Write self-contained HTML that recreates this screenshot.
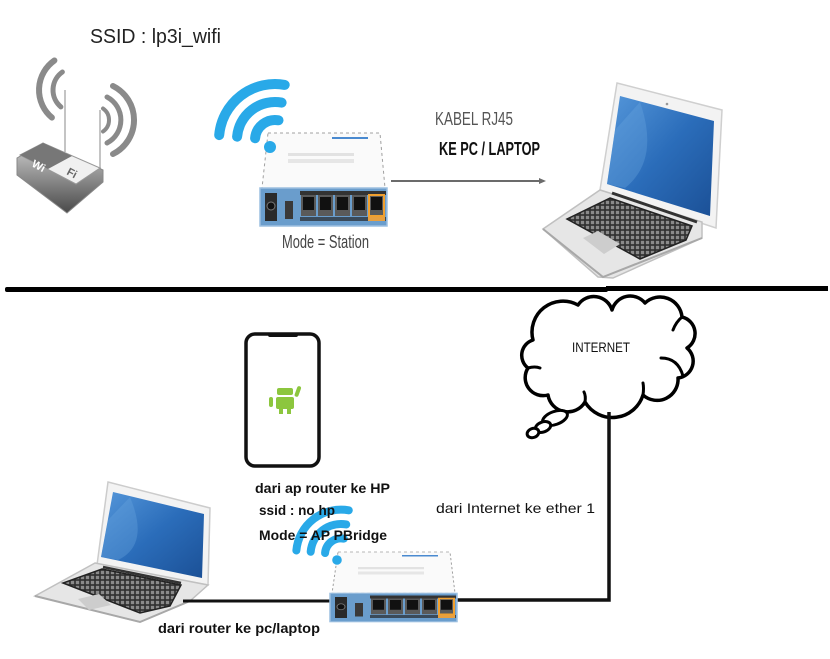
<!DOCTYPE html>
<html><head><meta charset="utf-8">
<style>
html,body{margin:0;padding:0;background:#fff;}
svg{display:block;}
</style></head>
<body>
<svg width="830" height="659" viewBox="0 0 830 659" xmlns="http://www.w3.org/2000/svg">
<defs>
<linearGradient id="scr" x1="0" y1="0" x2="1" y2="1">
<stop offset="0" stop-color="#5597da"/><stop offset="0.5" stop-color="#2b6dba"/><stop offset="1" stop-color="#1b5096"/>
</linearGradient>
<pattern id="keys" width="5" height="5" patternUnits="userSpaceOnUse">
<rect width="5" height="5" fill="#2e2e2e"/><rect x="0.8" y="0.8" width="3.4" height="3.4" fill="#8a8a8a"/>
</pattern>
<linearGradient id="dev" x1="0" y1="0" x2="0" y2="1">
<stop offset="0" stop-color="#cfcfcf"/><stop offset="1" stop-color="#4a4a4a"/>
</linearGradient>
<g id="router">
  <polygon points="8,0 120,0 125,55 2,55" fill="#fafafa" stroke="#a0a0a0" stroke-width="1" stroke-dasharray="3,3"/>
  <rect x="72" y="4" width="36" height="2" fill="#4a8ad0"/>
  <rect x="28" y="20" width="66" height="3" fill="#e2e2e2"/>
  <rect x="28" y="26" width="66" height="4" fill="#e6e6e6"/>
  <rect x="0" y="55" width="127" height="38" fill="#6a9dcc" stroke="#9cbfe0" stroke-width="1.5"/>
  <rect x="5" y="60" width="12" height="28" fill="#2a2a2a"/>
  <circle cx="11" cy="73" r="4" fill="#111" stroke="#777" stroke-width="1"/>
  <rect x="25" y="68" width="8" height="18" fill="#3a3a3a"/>
  <rect x="40" y="58" width="86" height="4" fill="#333"/>
  <rect x="40" y="84" width="86" height="4" fill="#3a4a5a"/>
  <g fill="#5a5a5a">
    <rect x="41" y="62" width="15" height="21"/>
    <rect x="58" y="62" width="15" height="21"/>
    <rect x="75" y="62" width="15" height="21"/>
    <rect x="92" y="62" width="15" height="21"/>
    <rect x="109" y="62" width="15" height="21" stroke="#f0a030" stroke-width="2"/>
  </g>
  <g fill="#111">
    <rect x="43" y="64" width="11" height="13"/>
    <rect x="60" y="64" width="11" height="13"/>
    <rect x="77" y="64" width="11" height="13"/>
    <rect x="94" y="64" width="11" height="13"/>
    <rect x="111" y="64" width="11" height="13"/>
  </g>
  <rect x="108" y="84" width="17" height="4" fill="#e8a040"/>
</g>
<g id="wifi" fill="none" stroke="#29a9e8" stroke-width="10" stroke-linecap="round">
  <path d="M284.7 84.9 A56 56 0 0 0 219.2 135.1"/>
  <path d="M281.6 102.6 A38 38 0 0 0 237.1 136.7"/>
  <path d="M278.5 120.3 A20 20 0 0 0 255.1 138.3"/>
  <circle cx="270" cy="147" r="6" fill="#29a9e8" stroke="none"/>
</g>
</defs>

<!-- ===== TOP SECTION ===== -->
<!-- left wifi device -->
<g fill="none" stroke="#8a8a8a" stroke-linecap="round">
  <path d="M54.4 60.5 A36 36 0 0 0 51.9 117.6" stroke-width="6"/>
  <path d="M62.4 72 A22 22 0 0 0 60.9 106.9" stroke-width="5"/>
  <path d="M113 86 A38 38 0 0 1 113 154" stroke-width="6"/>
  <path d="M107 97 A26 26 0 0 1 107 143" stroke-width="5"/>
  <path d="M103 108.5 A14 14 0 0 1 103 131.5" stroke-width="4"/>
</g>
<line x1="65" y1="90" x2="65" y2="152" stroke="#c4c4c4" stroke-width="2"/>
<line x1="100" y1="110" x2="100" y2="170" stroke="#c4c4c4" stroke-width="2"/>
<polygon points="17,158 43,143 103,170 103,182 67,213 17,175" fill="url(#dev)" stroke="#888" stroke-width="1"/>
<polygon points="20,155 43,143 100,168 76,184" fill="#f0f0f0" stroke="#999" stroke-width="1"/>
<polygon points="20,155 43,143 72,156 48,169" fill="#777"/>
<text x="0" y="0" font-family="Liberation Sans, sans-serif" font-weight="bold" font-size="11" fill="#fff" transform="translate(31,166) rotate(28)">Wi</text>
<text x="0" y="0" font-family="Liberation Sans, sans-serif" font-weight="bold" font-size="11" fill="#666" transform="translate(66,174) rotate(28)">Fi</text>

<text x="90" y="43" font-family="Liberation Sans, sans-serif" font-size="20" fill="#222" textLength="131" lengthAdjust="spacingAndGlyphs">SSID : lp3i_wifi</text>

<!-- top router -->
<use href="#router" transform="translate(260,133)"/>
<use href="#wifi"/>
<text x="282" y="248" font-family="Liberation Sans, sans-serif" font-size="18" fill="#444" textLength="87" lengthAdjust="spacingAndGlyphs">Mode = Station</text>

<!-- cable arrow -->
<line x1="391" y1="181" x2="542" y2="181" stroke="#6b6b6b" stroke-width="2"/>
<polygon points="546,181 539,178 539,184" fill="#6b6b6b"/>
<text x="435" y="125" font-family="Liberation Sans, sans-serif" font-size="18" fill="#555" textLength="78" lengthAdjust="spacingAndGlyphs">KABEL RJ45</text>
<text x="439" y="155" font-family="Liberation Sans, sans-serif" font-weight="bold" font-size="18" fill="#111" textLength="101" lengthAdjust="spacingAndGlyphs">KE PC / LAPTOP</text>

<!-- top laptop -->
<polygon points="617,83 722,110 716,228 600,190" fill="#f3f3f3" stroke="#cfcfcf" stroke-width="1.5"/>
<polygon points="620,96 714,121 710,216 607,184" fill="url(#scr)"/>
<path d="M640,102 Q660,160 625,188 L607,184 L615,130 Z" fill="#6aa5e0" opacity="0.35"/>
<circle cx="667" cy="104" r="1.3" fill="#999"/>
<polygon points="600,190 702,222 702,238 613,278 598,277 543,229" fill="#e6e6e6" stroke="#c0c0c0" stroke-width="1.5"/>
<polyline points="543,229 603,277 702,238" fill="none" stroke="#a8a8a8" stroke-width="2"/>
<line x1="612" y1="193" x2="697" y2="222" stroke="#333" stroke-width="3"/>
<polygon points="610,198 692,226 686,240 640,259 567,219" fill="url(#keys)" stroke="#222" stroke-width="1.5"/>
<polygon points="583,238 598,231 620,244 604,254" fill="#cdcdcd"/>

<!-- separator -->
<rect x="5" y="287" width="603" height="5" rx="2" fill="#000"/>
<rect x="606" y="286" width="222" height="5" fill="#000"/>

<!-- ===== BOTTOM SECTION ===== -->
<!-- cloud -->
<path d="M533,340 A31,31 0 0 1 578,305 A19,19 0 0 1 612,310 A19,19 0 0 1 645,303 A22,22 0 0 1 682,317 A17,17 0 0 1 687,348 A17,17 0 0 1 678,378 A21,21 0 0 1 643,395 A32,32 0 0 1 585,402 A20,20 0 0 1 548,395 A18,18 0 0 1 528,368 A16,16 0 0 1 533,340 Z" fill="#fff" stroke="#000" stroke-width="3.5" stroke-linejoin="round"/>
<g fill="none" stroke="#000" stroke-width="3" stroke-linecap="round">
  <path d="M661,358 Q678,358 683,376"/>
  <path d="M643,395 Q644,388 643,383"/>
  <path d="M585,402 Q586,396 584,392"/>
  <path d="M528,368 Q535,366 540,368"/>
  <path d="M682,317 Q676,322 673,330"/>
</g>
<ellipse cx="555" cy="418" rx="13" ry="6.5" transform="rotate(-20 555 418)" fill="#fff" stroke="#000" stroke-width="3"/>
<ellipse cx="543" cy="427" rx="8" ry="5" transform="rotate(-20 543 427)" fill="#fff" stroke="#000" stroke-width="3"/>
<ellipse cx="533" cy="433" rx="6" ry="4.5" transform="rotate(-20 533 433)" fill="#fff" stroke="#000" stroke-width="3"/>
<text x="572" y="352" font-family="Liberation Sans, sans-serif" font-size="14" fill="#111" textLength="58" lengthAdjust="spacingAndGlyphs">INTERNET</text>

<!-- cable internet -> router -->
<polyline points="609,412 609,600 452,600" fill="none" stroke="#111" stroke-width="3.5"/>
<text x="436" y="513" font-family="Liberation Sans, sans-serif" font-size="14" fill="#111" textLength="159" lengthAdjust="spacingAndGlyphs">dari Internet ke ether 1</text>

<!-- phone -->
<rect x="246" y="334" width="73" height="132" rx="9" fill="#fff" stroke="#111" stroke-width="3.5"/>
<rect x="268" y="333" width="30" height="4" rx="2" fill="#111"/>
<g fill="#8cc63e">
  <rect x="277" y="388" width="16" height="7" rx="2"/>
  <rect x="276" y="397" width="18" height="12" rx="2"/>
  <rect x="279" y="408" width="4" height="6"/>
  <rect x="287" y="408" width="4" height="6"/>
  <rect x="269" y="397" width="4" height="10" rx="2"/>
  <rect x="296" y="386" width="4" height="11" rx="2" transform="rotate(20 298 391)"/>
</g>

<!-- bottom laptop -->
<polygon points="108,482 210,508 208,585 97,565" fill="#f3f3f3" stroke="#cccccc" stroke-width="1.5"/>
<polygon points="113,492 204,514 202,578 101,557" fill="url(#scr)"/>
<path d="M130,497 Q150,545 118,560 L101,557 L108,520 Z" fill="#6aa5e0" opacity="0.35"/>
<polygon points="95,563 208,585 190,601 140,622 35,596" fill="#e6e6e6" stroke="#c0c0c0" stroke-width="1.5"/>
<polyline points="35,596 140,622 190,601" fill="none" stroke="#a8a8a8" stroke-width="2"/>
<line x1="103" y1="567" x2="181" y2="583" stroke="#333" stroke-width="2.5"/>
<polygon points="102,569 181,585 170,606 140,613 63,583" fill="url(#keys)" stroke="#222" stroke-width="1.5"/>
<polygon points="78,599 99,594 111,605 89,610" fill="#cdcdcd"/>

<!-- cable laptop -> router -->
<line x1="183" y1="601" x2="336" y2="601" stroke="#111" stroke-width="3"/>

<!-- bottom router + wifi -->
<use href="#router" transform="translate(330,552) scale(1,0.75)"/>
<use href="#wifi" transform="translate(337,560) scale(0.8) translate(-270,-147)"/>

<!-- bottom texts -->
<g font-family="Liberation Sans, sans-serif" font-weight="bold" font-size="14" fill="#111">
  <text x="255" y="493" textLength="135" lengthAdjust="spacingAndGlyphs">dari ap router ke HP</text>
  <text x="259" y="515" textLength="76" lengthAdjust="spacingAndGlyphs">ssid : no hp</text>
  <text x="259" y="540" textLength="128" lengthAdjust="spacingAndGlyphs">Mode = AP PBridge</text>
  <text x="158" y="633" textLength="162" lengthAdjust="spacingAndGlyphs">dari router ke pc/laptop</text>
</g>
</svg>
</body></html>
